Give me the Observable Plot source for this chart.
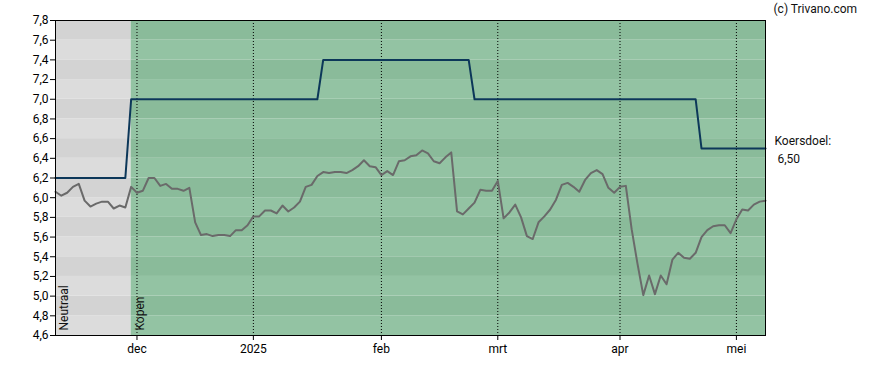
<!DOCTYPE html>
<html>
<head>
<meta charset="utf-8">
<script src="https://cdn.jsdelivr.net/npm/d3@7"></script>
<script src="https://cdn.jsdelivr.net/npm/@observablehq/plot@0.6"></script>
<style>
  body { margin: 0; background: #fff; }
  #chart svg { display: block; }
</style>
</head>
<body>
<div id="chart"></div>
<script>
// Closing prices per trading day (index 0 = 12 nov 2024 ... index 122 = 9 mei 2025)
const price = [
  6.06, 6.02, 6.05, 6.11, 6.14, 5.97, 5.91, 5.94, 5.96, 5.96,
  5.89, 5.92, 5.90, 6.11, 6.05, 6.07, 6.20, 6.20, 6.12, 6.14,
  6.09, 6.09, 6.07, 6.10, 5.75, 5.62, 5.63, 5.61, 5.62, 5.62,
  5.61, 5.67, 5.67, 5.72, 5.81, 5.81, 5.87, 5.87, 5.84, 5.92,
  5.86, 5.90, 5.96, 6.11, 6.13, 6.22, 6.26, 6.25, 6.26, 6.26,
  6.25, 6.28, 6.32, 6.38, 6.32, 6.31, 6.23, 6.27, 6.23, 6.37,
  6.38, 6.42, 6.43, 6.48, 6.45, 6.37, 6.35, 6.41, 6.46, 5.86,
  5.83, 5.89, 5.95, 6.08, 6.07, 6.07, 6.17, 5.79, 5.85, 5.93,
  5.80, 5.61, 5.58, 5.75, 5.81, 5.88, 5.98, 6.13, 6.15, 6.11,
  6.06, 6.18, 6.25, 6.28, 6.24, 6.10, 6.05, 6.11, 6.12, 5.68,
  5.33, 5.01, 5.21, 5.02, 5.21, 5.12, 5.37, 5.44, 5.39, 5.38,
  5.44, 5.60, 5.67, 5.71, 5.72, 5.72, 5.64, 5.78, 5.88, 5.87,
  5.93, 5.96, 5.97
];

// Koersdoel (price target) changes: value from given trading-day index onward
const targetStarts = [0, 13, 46, 72, 111];
const targetValues = [6.2, 7.0, 7.4, 7.0, 6.5];
const targetLabel = "Koersdoel:\n 6,50";

// Advice regions
const regionLabels = ["Neutraal", "Kopen"];
const regionStarts = [0, 13];
const regionEnds = [13, 122];
const regionColors = [["#dcdcdc", "#d3d3d3"], ["#93c3a3", "#8abb9a"]];

// Axis ticks
const xTickIndex = [14, 34, 56, 76, 97, 117];
const xTickLabels = ["dec", "2025", "feb", "mrt", "apr", "mei"];
const yTicks = [4.6, 4.8, 5.0, 5.2, 5.4, 5.6, 5.8, 6.0, 6.2, 6.4, 6.6, 6.8, 7.0, 7.2, 7.4, 7.6, 7.8];

const copyright = "(c) Trivano.com";

// Build tables
const priceData = price.map((v, i) => ({i, v}));
const targetData = price.map((_, i) => {
  let k = 0;
  for (let j = 0; j < targetStarts.length; j++) if (targetStarts[j] <= i) k = j;
  return {i, v: targetValues[k]};
});
const lastIndex = price.length - 1;
const bands = [];
regionLabels.forEach((lab, r) => {
  for (let k = 0; k < yTicks.length - 1; k++) {
    bands.push({x1: regionStarts[r], x2: regionEnds[r], y1: yTicks[k], y2: yTicks[k + 1],
      color: regionColors[r][k % 2]});
  }
});
const regions = regionLabels.map((label, r) => ({label, start: regionStarts[r]}));

const chart = Plot.plot({
  width: 888,
  height: 370,
  marginLeft: 55,
  marginRight: 123,
  marginTop: 20,
  marginBottom: 35,
  style: {fontFamily: "Roboto, sans-serif", fontSize: "12px", background: "#fff", color: "#000"},
  x: {type: "linear", domain: [0, lastIndex]},
  y: {type: "linear", domain: [4.6, 7.8]},
  color: {type: "identity"},
  marks: [
    Plot.rect(bands, {x1: "x1", x2: "x2", y1: "y1", y2: "y2", fill: "color"}),
    Plot.ruleX(xTickIndex, {stroke: "#000", strokeWidth: 1, strokeDasharray: "1,2"}),
    Plot.text(regions, {x: "start", y: 4.6, text: "label", rotate: -90, textAnchor: "start",
      lineAnchor: "top", dx: 4, dy: -5, fill: "#111", fontSize: 12}),
    Plot.line(targetData, {x: "i", y: "v", stroke: "#0c3759", strokeWidth: 2}),
    Plot.line(priceData, {x: "i", y: "v", stroke: "#6a6a6a", strokeWidth: 2}),
    Plot.frame({stroke: "#000", strokeWidth: 1}),
    Plot.axisY({ticks: yTicks, tickFormat: d => d.toFixed(1).replace(".", ","), tickSize: 5,
      tickPadding: 2, fontSize: 12, label: null}),
    Plot.axisX({ticks: xTickIndex, tickFormat: (d, i) => xTickLabels[i], tickSize: 5,
      tickPadding: 4, fontSize: 12, label: null}),
    Plot.text([targetData[lastIndex]], {x: "i", y: "v", text: () => targetLabel, textAnchor: "start",
      lineAnchor: "middle", lineHeight: 1.5, dx: 9, fill: "#111", fontSize: 12}),
    Plot.text([copyright], {frameAnchor: "top-right", text: d => d, textAnchor: "start",
      lineAnchor: "middle", dx: 8, dy: -11, fill: "#111", fontSize: 12})
  ]
});
document.getElementById("chart").appendChild(chart);
</script>
</body>
</html>
